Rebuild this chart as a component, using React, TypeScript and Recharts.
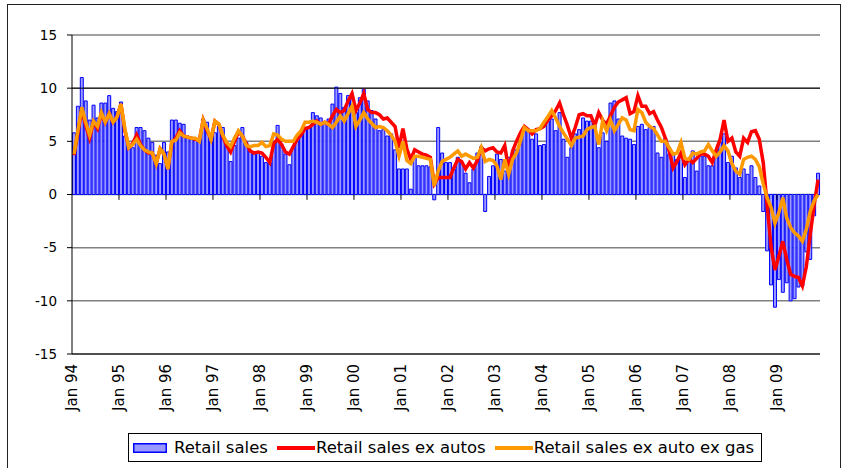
import React from "react";
import { ComposedChart, Bar, Line, XAxis, YAxis, CartesianGrid, Legend, ReferenceLine } from "recharts";

// year-on-year % change, monthly Jan 94 .. Nov 09
const years = ["94", "95", "96", "97", "98", "99", "00", "01", "02", "03", "04", "05", "06", "07", "08", "09"];
const monthNames = ["Jan", "Feb", "Mar", "Apr", "May", "Jun", "Jul", "Aug", "Sep", "Oct", "Nov", "Dec"];
const yTicks = [-15, -10, -5, 0, 5, 10, 15];
const seriesNames = ["Retail sales", "Retail sales ex autos", "Retail sales ex auto ex gas"];

const retailSales = [
  5.8, 8.3, 11.0, 8.8, 7.0, 8.4, 7.2, 8.6, 8.6, 9.3, 8.1, 7.8,
  8.7, 5.5, 4.4, 4.4, 6.3, 6.3, 6.0, 5.3, 4.9, 3.7, 2.9, 4.9,
  4.0, 7.0, 7.0, 6.7, 6.6, 5.5, 5.3, 5.2, 5.0, 7.1, 6.8, 5.0,
  5.8, 6.4, 6.3, 4.6, 3.1, 4.6, 5.3, 6.3, 4.9, 4.1, 4.0, 4.0,
  3.6, 3.0, 3.0, 5.0, 6.5, 4.7, 3.8, 2.8, 4.4, 5.0, 5.8, 6.1,
  6.4, 7.7, 7.4, 7.2, 6.8, 7.1, 8.5, 10.1, 9.5, 8.2, 9.3, 9.0,
  7.7, 9.1, 9.9, 8.8, 7.9, 7.1, 6.0, 6.1, 5.5, 5.7, 4.2, 2.4,
  2.4, 2.4, 0.5, 3.6, 2.7, 2.7, 2.7, 2.6, -0.5, 6.3, 3.9, 3.0,
  3.0, 2.4, 3.5, 3.0, 2.0, 1.1, 2.4, 3.9, 4.5, -1.6, 1.7, 2.7,
  3.8, 3.3, 2.2, 3.5, 3.9, 4.2, 4.9, 6.0, 6.0, 5.2, 5.7, 4.6,
  4.7, 6.9, 7.1, 6.0, 7.7, 5.2, 3.5, 4.4, 5.7, 6.1, 7.2, 6.9,
  6.9, 6.4, 4.4, 5.8, 5.0, 8.6, 8.8, 7.1, 5.5, 5.3, 5.2, 4.7,
  6.4, 6.6, 6.1, 6.3, 6.4, 3.9, 3.5, 5.3, 3.8, 3.8, 3.3, 3.5,
  1.6, 3.3, 4.1, 2.2, 3.6, 3.6, 2.7, 2.7, 4.1, 4.9, 5.7, 3.0,
  3.6, 2.5, 1.6, 2.4, 1.9, 2.7, 1.6, 0.8, -1.6, -5.3, -8.5, -10.6,
  -8.0, -9.2, -8.3, -10.0, -9.8, -8.7, -8.6, -5.4, -6.1, -2.0, 2.0,
];

const exAutos = [
  3.7, 5.8, 8.0, 6.5, 5.3, 6.8, 6.2, 7.6, 6.8, 7.6, 6.8, 7.3,
  8.5, 6.0, 4.4, 4.8, 5.6, 4.7, 4.2, 3.9, 3.9, 2.9, 4.3, 3.8,
  2.4, 4.9, 5.3, 6.0, 5.5, 5.4, 5.3, 5.2, 5.1, 7.0, 6.0, 5.2,
  6.9, 6.6, 5.5, 4.6, 4.0, 5.0, 5.9, 5.5, 4.8, 4.1, 3.9, 4.0,
  3.9, 3.5, 3.0, 4.8, 5.2, 4.7, 4.0, 3.8, 4.5, 5.2, 5.6, 6.2,
  6.3, 6.6, 6.9, 6.6, 6.8, 6.6, 7.4, 8.0, 7.7, 7.9, 8.8, 9.5,
  7.9, 8.6, 9.5, 8.0, 7.7, 7.7, 7.5, 7.1, 7.2, 6.8, 6.4, 4.4,
  6.2, 4.3, 3.3, 4.2, 4.0, 3.8, 3.7, 3.5, 1.0, 1.6, 1.6, 1.6,
  1.6, 2.5, 3.3, 3.1, 2.4, 3.0, 2.5, 3.2, 4.4, 4.1, 4.3, 4.4,
  4.0, 3.9, 4.6, 2.3, 4.1, 5.0, 5.8, 6.4, 6.1, 5.7, 6.1, 6.2,
  6.4, 7.0, 7.4, 7.9, 8.6, 7.5, 6.5, 5.3, 6.3, 7.5, 7.6, 7.4,
  7.4, 6.5, 7.7, 7.0, 6.6, 7.4, 8.2, 8.7, 8.9, 9.1, 7.6, 7.8,
  9.3, 8.3, 8.3, 7.6, 7.8, 7.0, 6.3, 5.3, 4.1, 2.5, 3.1, 3.9,
  2.8, 3.3, 3.0, 3.4, 3.8, 3.8, 3.6, 3.0, 4.2, 5.2, 7.0, 5.0,
  5.3, 4.0, 3.6, 5.3, 4.9, 5.9, 6.0, 5.2, 3.0, -1.0, -4.9, -7.1,
  -5.8, -4.4, -6.1, -7.5, -7.7, -7.8, -8.6, -6.8, -3.8, -1.0, 1.4,
];

const exAutoExGas = [
  3.8, 6.0, 8.2, 6.8, 5.6, 6.9, 6.4, 7.7, 6.8, 7.6, 6.8, 7.3,
  8.5, 6.2, 4.4, 4.7, 5.2, 4.6, 4.2, 4.0, 3.9, 2.9, 4.3, 3.8,
  2.4, 5.0, 5.1, 5.8, 5.5, 5.4, 5.3, 5.3, 5.0, 7.0, 6.2, 5.2,
  6.9, 6.6, 5.6, 4.9, 4.5, 5.3, 6.0, 5.5, 4.6, 4.5, 4.6, 4.6,
  4.9, 4.5, 4.6, 5.7, 5.6, 5.2, 5.0, 5.0, 5.0, 5.6, 6.0, 6.8,
  6.8, 6.9, 6.8, 6.6, 6.8, 6.6, 6.3, 6.8, 7.4, 6.9, 7.6, 8.3,
  6.4, 7.0, 7.7, 7.1, 6.7, 6.3, 6.4, 6.3, 6.0, 5.6, 5.0, 3.6,
  5.0, 3.2, 2.9, 3.6, 3.6, 3.5, 3.4, 3.3, 0.8, 2.2, 3.1, 3.3,
  3.5, 3.8, 4.1, 3.6, 3.8, 3.6, 3.4, 3.5, 4.4, 3.1, 3.3, 3.2,
  2.7, 1.4, 3.3, 1.9, 3.3, 3.9, 5.0, 6.3, 6.0, 6.0, 6.0, 6.2,
  6.8, 7.3, 7.9, 7.2, 6.4, 5.8, 5.2, 4.6, 5.3, 5.4, 5.5, 6.1,
  6.3, 6.4, 4.7, 6.9, 6.0, 7.0, 6.0, 6.6, 7.2, 7.0, 6.1, 6.0,
  8.0, 7.7, 6.8, 6.4, 6.2, 5.6, 5.0, 5.0, 4.4, 3.8, 3.9, 4.9,
  3.4, 3.3, 3.9, 3.8, 4.0, 4.1, 4.7, 4.1, 3.6, 4.0, 4.6, 4.1,
  2.9, 2.2, 1.9, 3.3, 3.5, 3.6, 3.3, 2.6, 1.0, -0.3, -1.2, -2.7,
  -1.7, -0.3, -2.2, -3.1, -3.6, -3.9, -4.4, -3.3, -1.6, -0.6, 0.0,
];

const months = retailSales.map((_, i) => `${monthNames[i % 12]} ${years[Math.floor(i / 12)]}`);
const data = months.map((m, i) => ({ month: m, retail: retailSales[i], exAutos: exAutos[i], exGas: exAutoExGas[i] }));
const janLabels = months.filter((m) => m.startsWith("Jan"));

const font = "'DejaVu Sans', Arial, sans-serif";

function MonthTick({ x, y, payload }: any) {
  return (
    <g transform={`translate(${x - 2},${y})`}>
      <text transform="rotate(-90)" textAnchor="end" dy="0.36em" fontSize={15} fontFamily={font} fill="#000">
        {payload.value}
      </text>
    </g>
  );
}

function LegendBox({ payload }: any) {
  const items = [...(payload || [])].sort((a: any, b: any) => seriesNames.indexOf(a.value) - seriesNames.indexOf(b.value));
  return (
    <div
      style={{
        display: "flex",
        alignItems: "center",
        border: "1px solid #000",
        background: "#fff",
        height: 27,
        padding: "0 7px 0 4px",
        fontFamily: font,
        fontSize: 16.5,
        color: "#000",
        whiteSpace: "nowrap",
      }}
    >
      {items.map((p: any, i: number) => (
        <span key={i} style={{ display: "flex", alignItems: "center", marginLeft: i === 0 ? 0 : 9 }}>
          {p.type === "rect" ? (
            <svg width={34} height={10}>
              <rect x={0.75} y={0.75} width={32.5} height={8.5} fill="#9999ff" stroke="#0000ff" strokeWidth={1.5} />
            </svg>
          ) : (
            <svg width={38} height={8}>
              <line x1={0} y1={4} x2={38} y2={4} stroke={p.color} strokeWidth={4} />
            </svg>
          )}
          <span style={{ marginLeft: p.type === "rect" ? 7 : 1 }}>{p.value}</span>
        </span>
      ))}
    </div>
  );
}

export default function App() {
  return (
    <div style={{ position: "fixed", left: 0, top: 0, width: 843, height: 468, background: "#fff", overflow: "hidden" }}>
      <div style={{ position: "absolute", left: 7, top: 4, width: 832, height: 480, border: "1px solid #222" }} />
      <ComposedChart
        width={843}
        height={468}
        data={data}
        margin={{ top: 35, right: 23, left: 0, bottom: 0 }}
        barCategoryGap="12%"
      >
        <CartesianGrid vertical={false} stroke="#808080" strokeWidth={1.5} />
        <XAxis
          dataKey="month"
          interval={11}
          height={114}
          tick={<MonthTick />}
          tickLine={false}
          tickSize={6}
          tickMargin={4}
          axisLine={{ stroke: "#000" }}
        />
        <YAxis
          domain={[-15, 15]}
          ticks={yTicks}
          width={72}
          tickSize={5}
          tickMargin={10}
          axisLine={{ stroke: "#000" }}
          tickLine={{ stroke: "#000" }}
          tick={{ fontSize: 13.5, fontFamily: font, fill: "#000" }}
        />
        <YAxis
          yAxisId="frame"
          orientation="right"
          domain={[-15, 15]}
          width={0}
          tick={false}
          tickLine={false}
          axisLine={{ stroke: "#808080", strokeWidth: 1.5 }}
        />
        <ReferenceLine y={10} stroke="#000" strokeWidth={1} />
        <Legend
          layout="horizontal"
          verticalAlign="middle"
          align="center"
          itemSorter={null as any}
          content={<LegendBox />}
          wrapperStyle={{ top: 433, left: 128, width: "auto", height: "auto" }}
        />
        <Bar dataKey="retail" name={seriesNames[0]} fill="#9999ff" stroke="#0000ff" strokeWidth={1} isAnimationActive={false} />
        <Line
          dataKey="exAutos"
          name={seriesNames[1]}
          stroke="#ff0000"
          strokeWidth={3.5}
          dot={false}
          activeDot={false}
          type="linear"
          isAnimationActive={false}
        />
        <Line
          dataKey="exGas"
          name={seriesNames[2]}
          stroke="#ff9900"
          strokeWidth={3.5}
          dot={false}
          activeDot={false}
          type="linear"
          isAnimationActive={false}
        />
        {janLabels.slice(1).map((label) => (
          <ReferenceLine
            key={label}
            segment={[
              { x: label, y: 0 },
              { x: label, y: -0.5 },
            ]}
            position="start"
            stroke="#000"
            strokeWidth={1}
          />
        ))}
      </ComposedChart>
    </div>
  );
}
